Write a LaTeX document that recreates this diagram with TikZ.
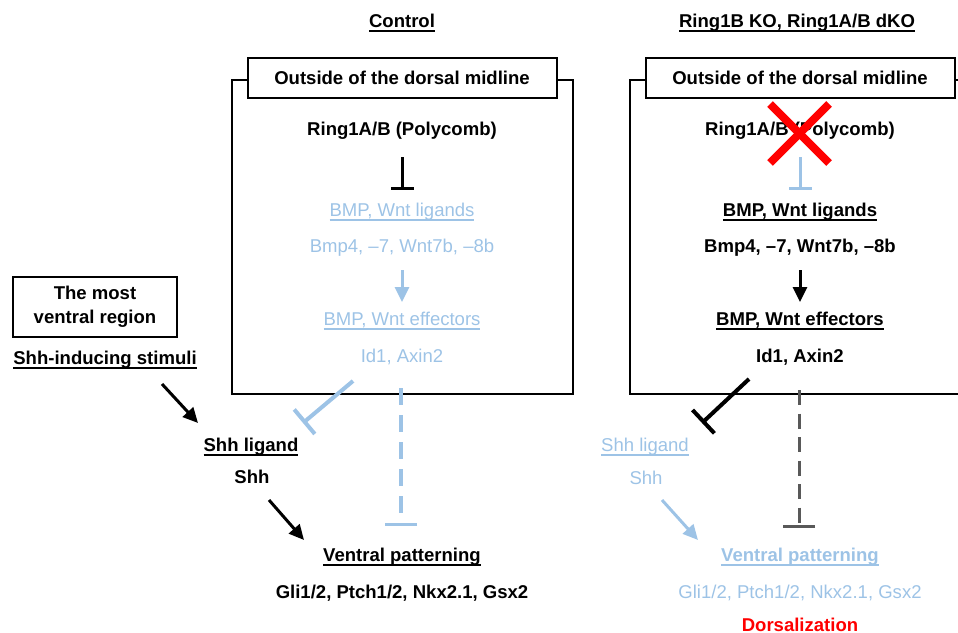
\documentclass[tikz,border=0pt]{standalone}
\usepackage{fontspec}
\setmainfont{Liberation Sans}
\usetikzlibrary{arrows.meta,calc}
\definecolor{paleblue}{RGB}{157,195,230}
\definecolor{knockred}{RGB}{255,0,0}
\definecolor{dashgrey}{RGB}{89,89,89}
\newcommand{\ulined}[1]{\setbox0\hbox{#1}\rlap{\rule[-2.2pt]{\wd0}{0.75pt}}\box0}

\begin{document}
\begin{tikzpicture}[
x=0.2mm, y=-0.2mm,
font=\fontsize{10.55}{13.6}\selectfont,
txt/.style={inner sep=1pt, font=\fontsize{10.55}{13.6}\selectfont\bfseries},
pale/.style={inner sep=1pt, text=paleblue},
palebf/.style={txt, text=paleblue},
bigframe/.style={draw=black, line width=0.4mm},
titlebox/.style={txt, draw=black, line width=0.4mm, fill=white, minimum width=61.8mm, minimum height=8mm},
arr/.style={line width=0.6mm, -{Triangle[length=3mm, width=2.8mm]}},
inh/.style={line width=0.6mm, -{Bar[width=4.6mm]}},
inhbig/.style={line width=0.8mm, -{Bar[width=6.4mm]}},
xmark/.style={knockred, line width=1.6mm},
]
    \useasboundingbox (0,0) rectangle (958,633);

    \node [txt] (ctl) at (402,23) {\ulined{Control}};
    \node [txt] (ko) at (797,23) {\ulined{Ring1B KO, Ring1A/B dKO}};

    \draw [bigframe] (232,80) rectangle (573,394);
    \draw [bigframe] (630,80) rectangle (975,394);
    \node [titlebox] (out1) at (402,78) {Outside of the dorsal midline};
    \node [titlebox] (out2) at (800,78) {Outside of the dorsal midline};

    \node [txt] (ring1) at (402,131) {Ring1A/B (Polycomb)};
    \node [pale] (lig1) at (402,212) {\ulined{BMP, Wnt ligands}};
    \node [pale] (gen1) at (402,248) {Bmp4, –7, Wnt7b, –8b};
    \node [pale] (eff1) at (402,321) {\ulined{BMP, Wnt effectors}};
    \node [pale] (id1) at (402,357) {Id1, Axin2};

    \node [txt] (ring2) at (800,131) {Ring1A/B (Polycomb)};
    \node [txt] (lig2) at (800,212) {\ulined{BMP, Wnt ligands}};
    \node [txt] (gen2) at (800,248) {Bmp4, –7, Wnt7b, –8b};
    \node [txt] (eff2) at (800,321) {\ulined{BMP, Wnt effectors}};
    \node [txt] (id2) at (800,357) {Id1, Axin2};

    \node [titlebox, minimum width=32.8mm, minimum height=12mm, align=center] (vr) at (95,307) {The most\\ventral region};
    \node [txt] (stim) at (105,360) {\ulined{Shh-inducing stimuli}};
    \node [txt] (shl1) at (251,447) {\ulined{Shh ligand}};
    \node [txt] (shh1) at (252,477) {Shh};
    \node [txt] (vp1) at (402,557) {\ulined{Ventral patterning}};
    \node [txt] (gli1) at (402,593) {Gli1/2, Ptch1/2, Nkx2.1, Gsx2};

    \node [pale] (shl2) at (645,447) {\ulined{Shh ligand}};
    \node [pale] (shh2) at (646,478) {Shh};
    \node [palebf] (vp2) at (800,557) {\ulined{Ventral patterning}};
    \node [pale] (gli2) at (800,593) {Gli1/2, Ptch1/2, Nkx2.1, Gsx2};
    \node [txt, text=knockred] (dors) at (800,625) {Dorsalization};

    \draw [inh] ($(ring1)+(0,26)$) -- ($(lig1)+(0,-22)$);
    \draw [arr, paleblue] ($(gen1)+(0,22)$) -- ($(eff1)+(0,-19)$);
    \draw [inhbig, paleblue] ($(id1)+(-49,24)$) -- ($(shl1)+(52,-24)$);
    \draw [inhbig, paleblue, line width=0.7mm, dash pattern=on 3.4mm off 2mm] ($(id1)+(-1,31)$) -- ($(vp1)+(-1,-31)$);
    \draw [arr] ($(stim)+(57,24)$) -- ($(shl1)+(-53,-24)$);
    \draw [arr] ($(shh1)+(17,23)$) -- ($(vp1)+(-98,-17)$);

    \draw [inh, paleblue] ($(ring2)+(0,26)$) -- ($(lig2)+(0,-22)$);
    \draw [arr] ($(gen2)+(0,22)$) -- ($(eff2)+(0,-19)$);
    \draw [inhbig] ($(id2)+(-51,22)$) -- ($(shl2)+(57,-24)$);
    \draw [inhbig, dashgrey, line width=0.6mm, dash pattern=on 3mm off 1.7mm] ($(id2)+(-1,33)$) -- ($(vp2)+(-1,-29)$);
    \draw [arr, paleblue] ($(shh2)+(16,22)$) -- ($(vp2)+(-102,-17)$);

    \draw [xmark] ($(ring2)+(-30,-27)$) -- ($(ring2)+(29,32)$);
    \draw [xmark] ($(ring2)+(-30,32)$) -- ($(ring2)+(29,-27)$);
\end{tikzpicture}
\end{document}
